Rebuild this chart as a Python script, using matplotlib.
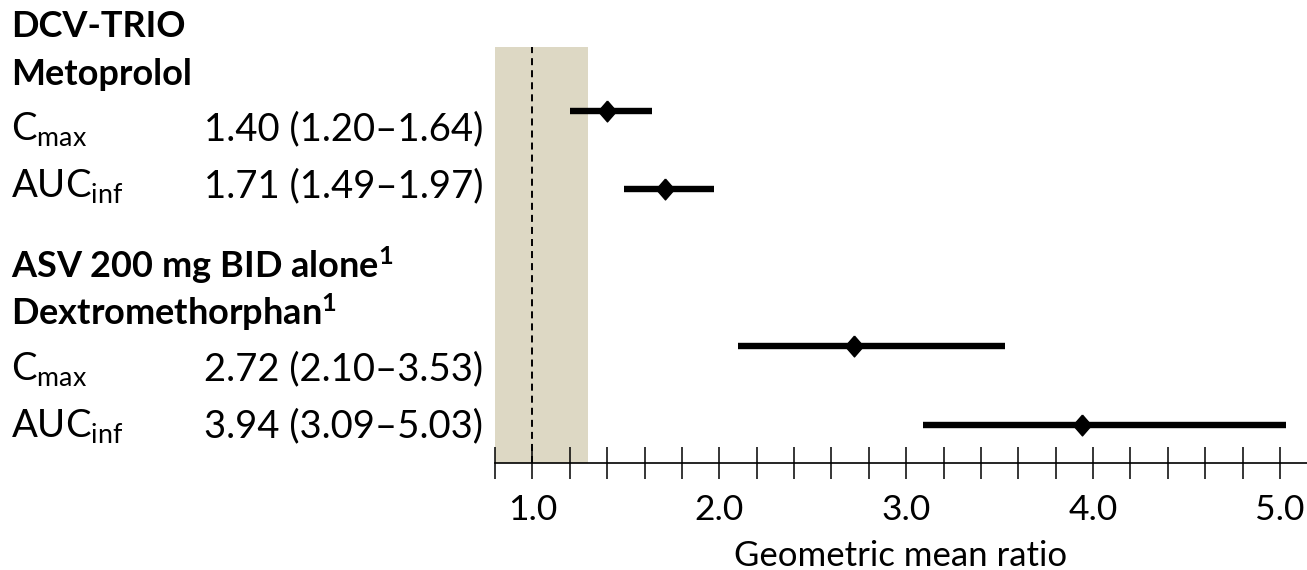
import matplotlib
matplotlib.use("Agg")
import matplotlib.pyplot as plt
from matplotlib.ticker import FixedLocator, FixedFormatter

plt.rcParams['font.family'] = ['Lato', 'DejaVu Sans']
plt.rcParams['mathtext.fontset'] = 'custom'
plt.rcParams['mathtext.rm'] = 'Lato'
plt.rcParams['mathtext.it'] = 'Lato:italic'
plt.rcParams['mathtext.bf'] = 'Lato:bold'

# ---- data ----
group_titles = [r"DCV-TRIO", r"ASV 200 mg BID alone$^{\mathbf{1}}$"]
drug_names = [r"Metoprolol", r"Dextromethorphan$^{\mathbf{1}}$"]
param_labels = [r"C$_{\mathrm{max}}$", r"AUC$_{\mathrm{inf}}$",
                r"C$_{\mathrm{max}}$", r"AUC$_{\mathrm{inf}}$"]
gmr = [1.40, 1.71, 2.72, 3.94]
ci_low = [1.20, 1.49, 2.10, 3.09]
ci_high = [1.64, 1.97, 3.53, 5.03]
rows = [0, 1, 3, 4]
tick_values = [1.0, 2.0, 3.0, 4.0, 5.0]
tick_labels = ["1.0", "2.0", "3.0", "4.0", "5.0"]
minor_ticks = [0.8, 1.2, 1.4, 1.6, 1.8, 2.2, 2.4, 2.6, 2.8, 3.2, 3.4, 3.6, 3.8,
               4.2, 4.4, 4.6, 4.8]
shade_range = (0.8, 1.3)
ref_line = 1.0
x_label = "Geometric mean ratio"

W, H = 1307, 570
fig = plt.figure(figsize=(W / 100, H / 100), dpi=100)

ax_left_px, ax_right_px, ax_top_px, ax_bot_px = 495, 1307, 47, 463
ax = fig.add_axes([ax_left_px / W, 1 - ax_bot_px / H,
                   (ax_right_px - ax_left_px) / W, (ax_bot_px - ax_top_px) / H])

ax.set_xlim(0.8, 5.145)
ax.set_ylim(4.484, -0.815)

ax.axvspan(shade_range[0], shade_range[1], color='#DDD8C4', lw=0, zorder=0)
ax.axvline(ref_line, color='black', lw=1.4, ls=(0, (3.6, 2.6)), zorder=1)

diamond = [(0, 1), (0.87, 0), (0, -1), (-0.87, 0), (0, 1)]
for r, g, lo, hi in zip(rows, gmr, ci_low, ci_high):
    ax.plot([lo, hi], [r, r], color='black', lw=4.6, solid_capstyle='butt', zorder=2)
    ax.plot([g], [r], marker=diamond, ms=15, color='black', mec='black', zorder=3)

for s in ['top', 'right', 'left']:
    ax.spines[s].set_visible(False)
ax.spines['bottom'].set_linewidth(1.2)
ax.spines['bottom'].set_bounds(0.8, 5.145)
ax.set_yticks([])
ax.xaxis.set_major_locator(FixedLocator(tick_values))
ax.xaxis.set_major_formatter(FixedFormatter(tick_labels))
ax.xaxis.set_minor_locator(FixedLocator(minor_ticks))
ax.tick_params(axis='x', which='both', direction='inout', length=23, width=1.1,
               color='black')
ax.tick_params(axis='x', which='major', labelsize=25.5, pad=11)
ax.set_xlabel(x_label, fontsize=25, labelpad=10)

# ---- left text column ----
def ty(px):
    return 1 - px / H

head_fs = 26
val_fs = 27.5
fig.text(11 / W, ty(37), group_titles[0], fontsize=head_fs, fontweight='bold', va='baseline')
fig.text(11 / W, ty(85), drug_names[0], fontsize=head_fs, fontweight='bold', va='baseline')
fig.text(11 / W, ty(278), group_titles[1], fontsize=head_fs, fontweight='bold', va='baseline')
fig.text(11 / W, ty(325), drug_names[1], fontsize=head_fs, fontweight='bold', va='baseline')

baselines = [140, 197, 380, 437]
for lab, g, lo, hi, b in zip(param_labels, gmr, ci_low, ci_high, baselines):
    fig.text(11 / W, ty(b), lab, fontsize=val_fs, va='baseline')
    fig.text(204 / W, ty(b), f"{g:.2f} ({lo:.2f}\u2013{hi:.2f})", fontsize=val_fs,
             va='baseline')

fig.savefig("out.png", dpi=100)
